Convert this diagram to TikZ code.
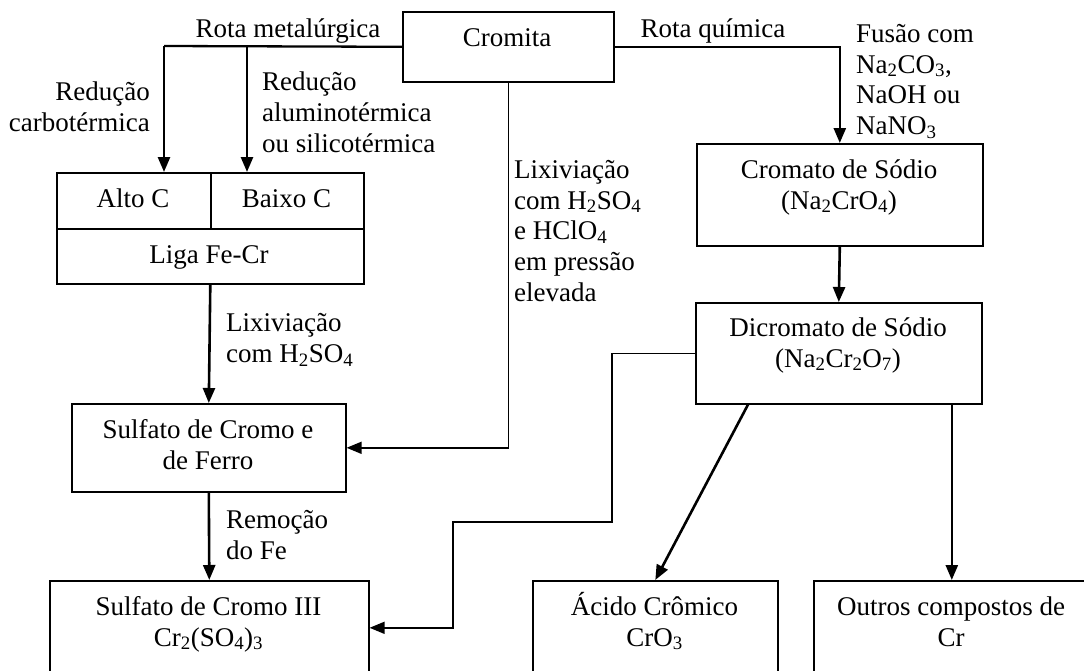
\documentclass[tikz,border=0pt]{standalone}
\usepackage{fontspec}
\setmainfont{Liberation Serif}
\usetikzlibrary{arrows.meta,calc}
\newcommand\fz{\fontsize{27}{30.8}\selectfont}
\newcommand\chs[1]{\textsubscript{#1}}
\newcommand\tst{\rule{0pt}{25pt}}
\begin{document}
\begin{tikzpicture}[x=1pt,y=-1pt,
  box/.style={draw, line width=1.6pt, inner sep=0pt, anchor=north west},
  tx/.style={inner sep=0pt, font=\fz, anchor=north, yshift=25pt},
  txc/.style={tx, align=center},
  txl/.style={tx, anchor=north west, align=left},
  txr/.style={tx, anchor=north east, align=right},
  tip/.style={-{Triangle[length=15pt,width=12pt]}},
  arr/.style={line width=2.6pt, tip},
  thin/.style={line width=1.6pt},
  mid/.style={line width=2.3pt}]
\useasboundingbox (0,0) rectangle (1084,670);
\clip (0,0) rectangle (1084,670);
% boxes
\node[box, minimum width=211pt, minimum height=70pt] (crom) at (402,11) {};
\node[box, minimum width=154pt, minimum height=56pt] (alto) at (56,172) {};
\node[box, minimum width=153pt, minimum height=56pt] (baixo) at (210,172) {};
\node[box, minimum width=307pt, minimum height=55pt] (liga) at (56,228) {};
\node[box, minimum width=286pt, minimum height=102pt] (cmt) at (696,143) {};
\node[box, minimum width=286pt, minimum height=101pt] (dic) at (695,302) {};
\node[box, minimum width=274pt, minimum height=88pt] (sf) at (71,403) {};
\node[box, minimum width=319pt, minimum height=94pt] (s3) at (49,580) {};
\node[box, minimum width=245pt, minimum height=94pt] (ac) at (532,580) {};
\node[box, minimum width=276pt, minimum height=94pt] (out) at (813,580) {};
% texts
\node[txc] (tcrom) at (507,46.7) {\tst Cromita};
\node[txc] (trm) at (288,37) {\tst Rota metalúrgica};
\node[txc] (trq) at (713,37) {\tst Rota química};
\node[txr] (tcarb) at (150,100.7) {\tst Redução\\carbotérmica};
\node[txl] (talu) at (262,90.7) {\tst Redução\\aluminotérmica\\ou silicotérmica};
\node[txl] (tfus) at (856,42) {\tst Fusão com\\Na\chs{2}CO\chs{3},\\NaOH ou\\NaNO\chs{3}};
\node[txc] (tcmt) at (839,178) {\tst Cromato de Sódio\\(Na\chs{2}CrO\chs{4})};
\node[txl] (tlix2) at (514,178) {\tst Lixiviação\\com H\chs{2}SO\chs{4}\\e HClO\chs{4}\\em pressão\\elevada};
\node[txc] (talto) at (133,207) {\tst Alto C};
\node[txc] (tbaixo) at (286.5,207) {\tst Baixo C};
\node[txc] (tliga) at (209,263) {\tst Liga Fe-Cr};
\node[txl] (tlix1) at (226,331.7) {\tst Lixiviação\\com H\chs{2}SO\chs{4}};
\node[txc] (tdic) at (838,336) {\tst Dicromato de Sódio\\(Na\chs{2}Cr\chs{2}O\chs{7})};
\node[txc] (tsf) at (208,438) {\tst Sulfato de Cromo e\\de Ferro};
\node[txl] (trem) at (226,528) {\tst Remoção\\do Fe};
\node[txc] (ts3) at (208.5,615) {\tst Sulfato de Cromo III\\Cr\chs{2}(SO\chs{4})\chs{3}};
\node[txc] (tac) at (654.5,615) {\tst Ácido Crômico\\CrO\chs{3}};
\node[txc] (tout) at (951,615) {\tst Outros compostos de\\Cr};
% connectors
\coordinate (mA) at (164,46);
\coordinate (mB) at (247,46);
\coordinate (d1) at (612,522);
\coordinate (d2) at (453,522);
\draw[mid] (crom.west) -- (mA);
\draw[arr] (mA) -- (mA |- alto.north);
\draw[arr] (mB) -- (mB |- baixo.north);
\draw[arr] (crom.east) -| (cmt.north);
\draw[arr] (cmt.south) -- (dic.north);
\draw[thin, tip] (crom.south) |- (sf.east);
\draw[arr] (liga.south) -- (sf.north);
\draw[arr] (sf.south) -- (s3.north);
\draw[thin, tip] (dic.west) -| (d1) -- (d2) |- (s3.east);
\draw[arr] ($(dic.south west)+(53,0)$) -- (ac.north);
\draw[arr] (dic.south -| out.north) -- (out.north);
\end{tikzpicture}
\end{document}
